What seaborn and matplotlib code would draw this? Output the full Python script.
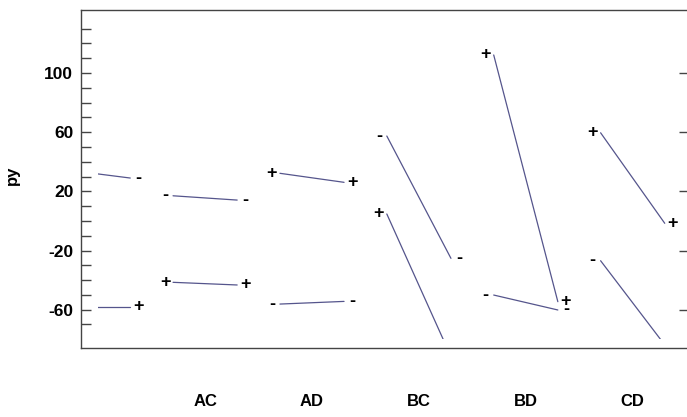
import matplotlib
matplotlib.use("Agg")
import matplotlib.pyplot as plt
import seaborn as sns
import pandas as pd
from matplotlib.patches import Rectangle
from matplotlib.ticker import FixedLocator

# ----------------------------
# DATA (interaction means of py)
# ----------------------------
pairs = ["AB", "AC", "AD", "BC", "BD", "CD"]
minus_low = [34.5, 17.0, -56.2, 57.4, -50.1, -26.9]
minus_high = [29.0, 14.1, -54.4, -25.3, -60.2, -83.8]
plus_low = [-58.0, -41.5, 32.2, 4.7, 112.2, 59.6]
plus_high = [-58.0, -43.3, 26.1, -91.7, -54.6, -1.6]

major_ticks = [-60, -20, 20, 60, 100]
minor_ticks = [v for v in range(-70, 131, 10) if v not in major_ticks]

half = 0.3
clip_y = -79.5
line_color = "#55558c"
spine_color = "#444444"

rows = []
for i, pair in enumerate(pairs):
    for sign, lo, hi in [("-", minus_low[i], minus_high[i]), ("+", plus_low[i], plus_high[i])]:
        for side, val in [(-1, lo), (1, hi)]:
            rows.append({"pair": pair, "sign": sign, "line": f"{pair}{sign}",
                         "side": side, "x": i + side * half, "py": val})
df = pd.DataFrame(rows)

# ----------------------------
# PLOT
# ----------------------------
sns.set_style("white")
plt.rcParams["font.family"] = ["Liberation Sans", "DejaVu Sans"]
plt.rcParams["axes.unicode_minus"] = False
plt.rcParams["text.color"] = "black"
plt.rcParams["axes.labelcolor"] = "black"

fig = plt.figure(figsize=(6.87, 4.17), dpi=100)
ax = fig.add_axes([81 / 687, 1 - 347.7 / 417, 608 / 687, 337.7 / 417])

sns.lineplot(data=df, x="x", y="py", units="line", estimator=None,
             color=line_color, lw=0.9, legend=False, ax=ax)

ax.set_xlim(-0.161, 5.527)
ax.set_ylim(-85.7, 142.6)

# data region is clipped (left half of first pair and the lowest ends)
clip = Rectangle((0, clip_y), 100, 1000, transform=ax.transData)
for ln in ax.lines:
    ln.set_clip_path(clip)

# +/- labels at line ends
for _, r in df.iterrows():
    if r["x"] < 0 or r["py"] < clip_y:
        continue
    ax.annotate(r["sign"], (r["x"], r["py"]), xytext=(r["side"] * 8, 0),
                textcoords="offset pixels", ha="center", va="center",
                fontsize=13, fontweight="bold", color="black")

ax.set_xticks(range(1, len(pairs)))
ax.set_xticklabels(pairs[1:], fontsize=12, fontweight="bold")
ax.tick_params(axis="x", length=0, pad=33, labelcolor="black")

ax.yaxis.set_major_locator(FixedLocator(major_ticks))
ax.yaxis.set_minor_locator(FixedLocator(minor_ticks))
ax.tick_params(axis="y", which="both", direction="in", length=7, width=1,
               color=spine_color, pad=5.5, labelsize=12.5, labelcolor="black",
               left=True)
ax.tick_params(axis="y", which="major", right=True)
for lab in ax.get_yticklabels():
    lab.set_fontweight("bold")

ax.set_xlabel("")
ax.set_ylabel("py", fontsize=12, fontweight="bold")
ax.yaxis.set_label_coords(-0.101, 0.51)

for s in ax.spines.values():
    s.set_color(spine_color)
    s.set_linewidth(1)

plt.savefig("out.png", dpi=100)
plt.close()
